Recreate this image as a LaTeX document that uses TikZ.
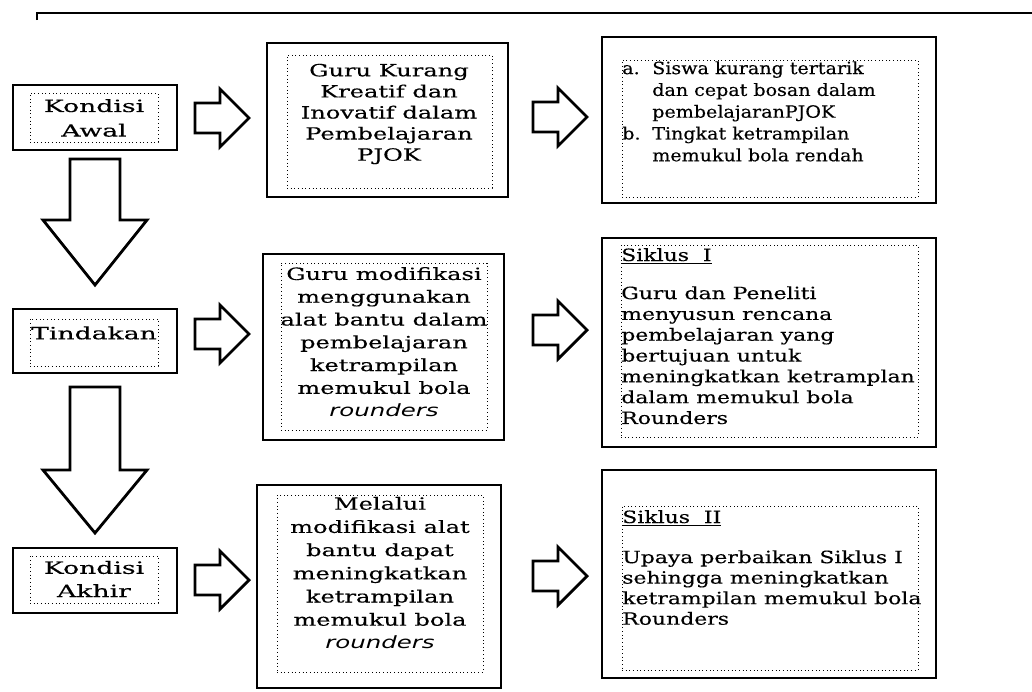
\documentclass[tikz,border=0pt]{standalone}
\usepackage{fontspec}
\setmainfont{DejaVu Serif}[FakeStretch=1.3,FakeBold=0.3]
\newfontfamily\fontkiri{DejaVu Serif}[FakeStretch=1.58,FakeBold=0.3]
\newfontfamily\fonttengah{DejaVu Serif}[FakeStretch=1.43,FakeBold=0.3]
\newfontfamily\fontmasalah{DejaVu Serif}[FakeStretch=1.13,FakeBold=0.3]
\newfontfamily\roundfont{DejaVu Sans}[FakeStretch=1.45]
\usetikzlibrary{fit}

\tikzset{
	outerbox/.style={draw=black,line width=2pt,inner sep=0pt},
	innerbox/.style={draw=black,dotted,line width=0.6pt,inner sep=0pt},
	blockarrow/.style={draw=black,line width=2pt,fill=white,line join=miter},
	boxtext/.style={inner sep=0pt,font=\fontsize{12}{15}\selectfont},
}
% panah blok ke kanan dan ke bawah
\newcommand\panahkanan[1]{\draw[blockarrow] (#1) ++(0,-15) -- ++(25,0) -- ++(0,-14) -- ++(29,29) -- ++(-29,29) -- ++(0,-14) -- ++(-25,0) -- cycle;}
\newcommand\panahbawah[3]{\draw[blockarrow] (#1) ++(-25,0) -- ++(0,#2) -- ++(-27,0) -- ++(52,#3) -- ++(52,-#3) -- ++(-27,0) -- ++(0,-#2) -- cycle;}
\newcommand\rnd{{\roundfont\itshape rounders}}

\begin{document}
\begin{tikzpicture}[x=0.025cm,y=-0.025cm]
	\useasboundingbox (0,0) rectangle (1032,691);
	\draw [line width=1.5pt] (37,20) -- (37,13) -- (1032,13);
	% kolom kiri
	\node [outerbox,fit={(13,85) (177,150)}] (awal) {};
	\node [innerbox,fit={(30,93) (158,142)}] (awalin) {};
	\node [boxtext,align=center,font=\fontkiri\fontsize{12}{17.5}\selectfont] (awaltxt) at (94,118) {Kondisi\\Awal};
	\node [outerbox,fit={(13,309) (177,373)}] (tindakan) {};
	\node [innerbox,fit={(30,319) (158,366)}] (tindakanin) {};
	\node [boxtext,font=\fontkiri\fontsize{12}{15}\selectfont] (tindakantxt) at (94,333) {Tindakan};
	\node [outerbox,fit={(13,548) (177,613)}] (akhir) {};
	\node [innerbox,fit={(30,556) (158,603)}] (akhirin) {};
	\node [boxtext,align=center,font=\fontkiri\fontsize{12}{16.5}\selectfont] (akhirtxt) at (94,579) {Kondisi\\Akhir};
	% kolom tengah
	\node [outerbox,fit={(267,43) (508,197)}] (guru) {};
	\node [innerbox,fit={(287,55) (492,188)}] (guruin) {};
	\node [boxtext,align=center,font=\fonttengah\fontsize{12}{15}\selectfont] (gurutxt) at (389,114) {Guru Kurang\\Kreatif dan\\Inovatif dalam\\Pembelajaran\\PJOK};
	\node [outerbox,fit={(263,254) (504,440)}] (modif) {};
	\node [innerbox,fit={(281,263) (487,430)}] (modifin) {};
	\node [boxtext,align=center,font=\fonttengah\fontsize{12}{16.2}\selectfont] (modiftxt) at (384,342) {Guru modifikasi\\menggunakan\\alat bantu dalam\\pembelajaran\\ketrampilan\\memukul bola\\\rnd};
	\node [outerbox,fit={(257,485) (501,688)}] (melalui) {};
	\node [innerbox,fit={(277,495) (483,672)}] (melaluiin) {};
	\node [boxtext,align=center,font=\fonttengah\fontsize{12}{16.5}\selectfont] (melaluitxt) at (380,573) {Melalui\\modifikasi alat\\bantu dapat\\meningkatkan\\ketrampilan\\memukul bola\\\rnd};
	% kolom kanan
	\node [outerbox,fit={(602,37) (936,203)}] (masalah) {};
	\node [innerbox,fit={(622,60) (918,197)}] (masalahin) {};
	\node [boxtext,align=left,anchor=north west,font=\fontmasalah\fontsize{12}{15.5}\selectfont] (masalahtxt) at (622,61) {\makebox[0.75cm][l]{a.}Siswa kurang tertarik\\\hspace*{0.75cm}dan cepat bosan dalam\\\hspace*{0.75cm}pembelajaranPJOK\\\makebox[0.75cm][l]{b.}Tingkat ketrampilan\\\hspace*{0.75cm}memukul bola rendah};
	\node [outerbox,fit={(602,238) (936,447)}] (siklus1) {};
	\node [innerbox,fit={(621,245) (918,437)}] (siklus1in) {};
	\node [boxtext,anchor=base west] (siklus1head) at (621,261) {\underline{Siklus\ \ I}};
	\node [boxtext,align=left,anchor=north west,font=\fontsize{12}{14.8}\selectfont] (siklus1txt) at (621,286) {Guru dan Peneliti\\menyusun rencana\\pembelajaran yang\\bertujuan untuk\\meningkatkan ketramplan\\dalam memukul bola\\Rounders};
	\node [outerbox,fit={(602,470) (936,678)}] (siklus2) {};
	\node [innerbox,fit={(622,506) (918,670)}] (siklus2in) {};
	\node [boxtext,anchor=base west] (siklus2head) at (622,523) {\underline{Siklus\ \ II}};
	\node [boxtext,align=left,anchor=north west,font=\fontsize{12}{14.6}\selectfont] (siklus2txt) at (622,550) {Upaya perbaikan Siklus I\\sehingga meningkatkan\\ketrampilan memukul bola\\Rounders};
	% panah
	\panahkanan{195,118}
	\panahkanan{533,117}
	\panahkanan{195,334}
	\panahkanan{533,330}
	\panahkanan{195,580}
	\panahkanan{533,576}
	\panahbawah{95,159}{61}{65}
	\panahbawah{95,387}{83}{63}
\end{tikzpicture}
\end{document}
